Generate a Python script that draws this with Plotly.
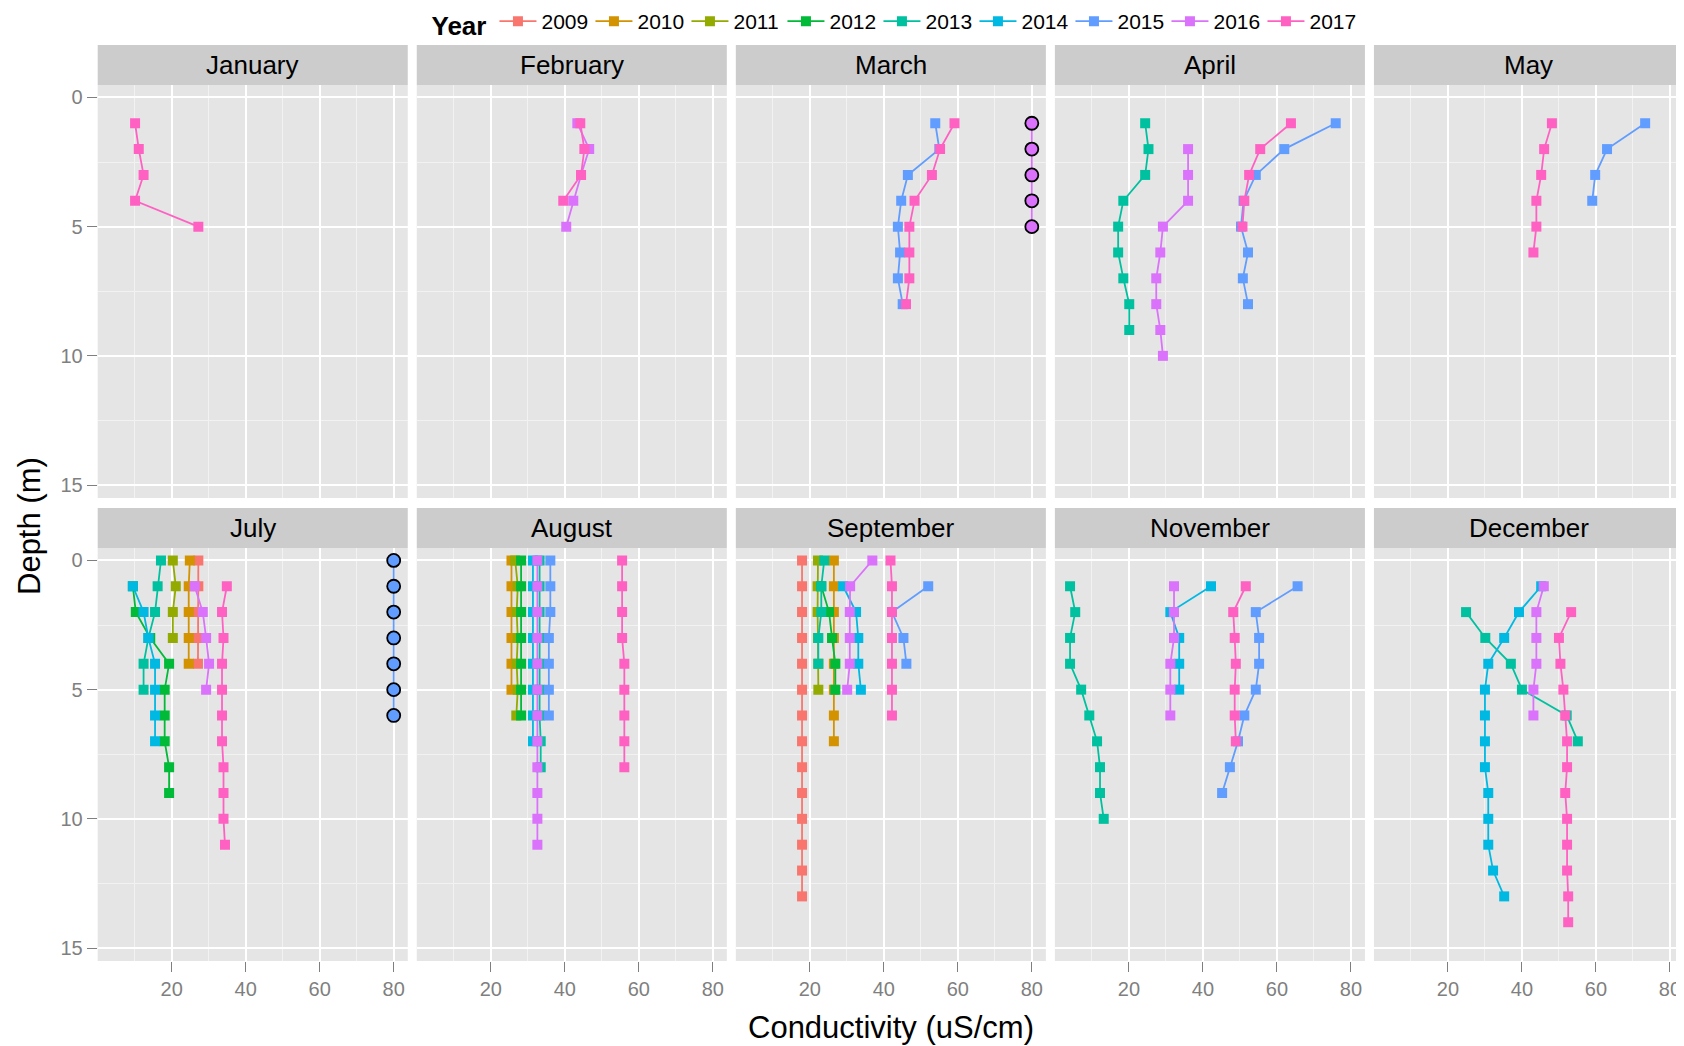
import plotly.graph_objects as go

# ---------------- data ----------------
years = [2009, 2010, 2011, 2012, 2013, 2014, 2015, 2016, 2017]
colors = ["#F8766D", "#D39200", "#93AA00", "#00BA38", "#00C19F",
          "#00B9E3", "#619CFF", "#DB72FB", "#FF61C3"]
facet_months = ["January", "February", "March", "April", "May",
                "July", "August", "September", "November", "December"]
x_ticks = [20, 40, 60, 80]
y_ticks = [0, 5, 10, 15]

# year -> (depth list, conductivity list)
january = {
    2017: ([1, 2, 3, 4, 5], [10.1, 11.1, 12.4, 10.1, 27.2]),
}
february = {
    2016: ([1, 2, 3, 4, 5], [43.4, 46.6, 44.4, 42.3, 40.4]),
    2017: ([1, 2, 3, 4], [44.2, 45.3, 44.4, 39.6]),
}
march = {
    2015: ([1, 2, 3, 4, 5, 6, 7, 8], [53.9, 55.0, 46.5, 44.7, 43.8, 44.4, 43.8, 45.1]),
    2017: ([1, 2, 3, 4, 5, 6, 7, 8], [59.1, 55.2, 53.0, 48.3, 46.9, 46.9, 46.9, 46.0]),
}
april = {
    2013: ([1, 2, 3, 4, 5, 6, 7, 8, 9], [24.4, 25.3, 24.4, 18.5, 17.1, 17.1, 18.5, 20.1, 20.1]),
    2015: ([1, 2, 3, 4, 5, 6, 7, 8], [75.9, 62.0, 54.3, 51.0, 50.3, 52.2, 50.8, 52.2]),
    2016: ([2, 3, 4, 5, 6, 7, 8, 9, 10], [36.0, 36.0, 36.0, 29.2, 28.5, 27.4, 27.4, 28.5, 29.2]),
    2017: ([1, 2, 3, 4, 5], [63.8, 55.5, 52.5, 51.2, 50.7]),
}
may = {
    2015: ([1, 2, 3, 4], [73.3, 63.0, 59.8, 59.0]),
    2017: ([1, 2, 3, 4, 5, 6], [48.1, 46.0, 45.2, 43.9, 43.9, 43.1]),
}
july = {
    2009: ([0, 1, 2, 3, 4], [27.2, 27.2, 27.0, 27.1, 27.1]),
    2010: ([0, 1, 2, 3, 4], [24.9, 24.6, 24.6, 24.6, 24.6]),
    2011: ([0, 1, 2, 3], [20.3, 21.1, 20.3, 20.3]),
    2012: ([1, 2, 3, 4, 5, 6, 7, 8, 9], [9.5, 10.3, 14.2, 19.3, 18.1, 18.1, 18.1, 19.3, 19.3]),
    2013: ([0, 1, 2, 3, 4, 5], [17.1, 16.2, 15.5, 13.7, 12.4, 12.4]),
    2014: ([1, 2, 3, 4, 5, 6, 7], [9.5, 12.4, 13.7, 15.5, 15.5, 15.5, 15.5]),
    2016: ([1, 2, 3, 4, 5], [26.2, 28.4, 29.3, 30.1, 29.3]),
    2017: ([1, 2, 3, 4, 5, 6, 7, 8, 9, 10, 11],
           [34.9, 33.6, 34.0, 33.6, 33.6, 33.6, 33.6, 34.0, 34.0, 34.0, 34.4]),
}
august = {
    2010: ([0, 1, 2, 3, 4, 5], [25.6, 25.6, 25.6, 25.6, 25.6, 25.6]),
    2011: ([0, 1, 2, 3, 4, 5, 6], [26.6, 27.3, 27.0, 27.3, 27.0, 27.3, 26.9]),
    2012: ([0, 1, 2, 3, 4, 5, 6], [28.2, 28.2, 28.2, 28.2, 28.2, 28.2, 28.2]),
    2013: ([0, 1, 2, 3, 4, 5, 6, 7, 8], [33.2, 33.2, 33.2, 33.2, 33.2, 33.2, 33.2, 33.5, 33.5]),
    2014: ([0, 1, 2, 3, 4, 5, 6, 7], [31.4, 31.4, 31.4, 31.4, 31.4, 31.4, 31.4, 31.4]),
    2015: ([0, 1, 2, 3, 4, 5, 6], [36.1, 36.1, 36.1, 35.7, 35.7, 35.7, 35.7]),
    2016: ([0, 1, 2, 3, 4, 5, 6, 7, 8, 9, 10, 11],
           [32.6, 32.6, 32.6, 32.6, 32.6, 32.6, 32.6, 32.6, 32.6, 32.6, 32.6, 32.6]),
    2017: ([0, 1, 2, 3, 4, 5, 6, 7, 8], [55.5, 55.5, 55.5, 55.5, 56.1, 56.1, 56.1, 56.1, 56.1]),
}
september = {
    2009: ([0, 1, 2, 3, 4, 5, 6, 7, 8, 9, 10, 11, 12, 13],
           [17.9, 17.9, 17.9, 17.9, 17.9, 17.9, 17.9, 17.9, 17.9, 17.9, 17.9, 17.9, 17.9, 17.9]),
    2010: ([0, 1, 2, 3, 4, 5, 6, 7], [26.5, 26.5, 26.5, 26.5, 26.5, 26.5, 26.5, 26.5]),
    2011: ([0, 1, 2, 3, 4, 5], [22.2, 22.1, 22.1, 22.2, 22.3, 22.3]),
    2012: ([1, 2, 3, 4, 5], [23.1, 25.2, 26.0, 26.9, 26.9]),
    2013: ([0, 1, 2, 3, 4], [23.9, 23.1, 23.1, 22.3, 22.3]),
    2014: ([1, 2, 3, 4, 5], [29.0, 32.5, 33.1, 33.1, 33.8]),
    2015: ([1, 2, 3, 4], [52.0, 42.2, 45.3, 46.1]),
    2016: ([0, 1, 2, 3, 4, 5], [36.9, 30.9, 30.8, 30.8, 30.8, 30.1]),
    2017: ([0, 1, 2, 3, 4, 5, 6], [41.8, 42.2, 42.2, 42.2, 42.2, 42.2, 42.2]),
}
november = {
    2013: ([1, 2, 3, 4, 5, 6, 7, 8, 9, 10], [4.1, 5.5, 4.1, 4.1, 7.1, 9.3, 11.4, 12.2, 12.2, 13.2]),
    2014: ([1, 2, 3, 4, 5], [42.2, 31.2, 33.6, 33.6, 33.6]),
    2015: ([1, 2, 3, 4, 5, 6, 7, 8, 9], [65.6, 54.3, 55.2, 55.2, 54.3, 51.2, 49.5, 47.3, 45.2]),
    2016: ([1, 2, 3, 4, 5, 6], [32.2, 32.2, 32.2, 31.2, 31.2, 31.2]),
    2017: ([1, 2, 3, 4, 5, 6, 7], [51.6, 48.2, 48.6, 48.9, 48.6, 48.6, 48.9]),
}
december = {
    2013: ([2, 3, 4, 5, 6, 7], [24.9, 30.1, 37.0, 40.0, 52.1, 55.1]),
    2014: ([1, 2, 3, 4, 5, 6, 7, 8, 9, 10, 11, 12, 13],
           [45.2, 39.2, 35.2, 30.9, 30.0, 30.0, 30.0, 30.0, 30.9, 30.9, 30.9, 32.2, 35.2]),
    2016: ([1, 2, 3, 4, 5, 6], [45.9, 43.9, 43.9, 43.9, 43.1, 43.1]),
    2017: ([2, 3, 4, 5, 6, 7, 8, 9, 10, 11, 12, 13, 14],
           [53.3, 50.0, 50.4, 51.2, 51.7, 52.2, 52.2, 51.7, 52.2, 52.2, 52.2, 52.5, 52.5]),
}
# profiles drawn with outlined circles at the right edge
flagged = {
    "March": {2016: ([1, 2, 3, 4, 5], [80, 80, 80, 80, 80])},
    "July": {2015: ([0, 1, 2, 3, 4, 5, 6], [80, 80, 80, 80, 80, 80, 80])},
}
month_data = {
    "January": january, "February": february, "March": march, "April": april,
    "May": may, "July": july, "August": august, "September": september,
    "November": november, "December": december,
}

# ---------------- layout geometry (pixels; page body has an 8px margin) ----------------
W, H = 1676, 1038
FONT = "Liberation Sans, Arial, Helvetica, sans-serif"
left0, pw, gap = 89.7, 310.06, 9.0
panel_tops = [77.0, 540.0]
ph, sh = 413.0, 40.0
x_range = [0, 83.8]
y_range = [15.5, -0.48]
MS = 10

fig = go.Figure()
color_of = dict(zip(years, colors))

# legend entries
for yr in years:
    fig.add_trace(go.Scatter(
        x=[None], y=[None], mode="lines+markers", name=str(yr),
        line=dict(color=color_of[yr], width=1.8),
        marker=dict(symbol="square", size=MS, color=color_of[yr]),
        xaxis="x", yaxis="y", legendgroup=str(yr), hoverinfo="skip"))

layout_axes = {}
for i, month in enumerate(facet_months):
    row, col = divmod(i, 5)
    n = i + 1
    xa = "x" if n == 1 else f"x{n}"
    ya = "y" if n == 1 else f"y{n}"
    x0 = left0 + col * (pw + gap)
    x1 = min(x0 + pw, W)
    top = panel_tops[row]
    bot = top + ph
    layout_axes["xaxis" if n == 1 else f"xaxis{n}"] = dict(
        domain=[x0 / W, x1 / W], range=x_range, anchor=ya,
        tickvals=x_ticks, showticklabels=(row == 1),
        ticks="outside" if row == 1 else "", ticklen=10, tickwidth=1.3,
        tickcolor="#7F7F7F", tickfont=dict(size=20, color="#7F7F7F", family=FONT),
        showgrid=True, gridcolor="white", gridwidth=1.7,
        minor=dict(tickvals=[10, 30, 50, 70], showgrid=True,
                   gridcolor="#F2F2F2", gridwidth=0.9, ticks=""),
        zeroline=False, showline=False, fixedrange=True)
    layout_axes["yaxis" if n == 1 else f"yaxis{n}"] = dict(
        domain=[1 - bot / H, 1 - top / H], range=y_range, anchor=xa,
        tickvals=y_ticks, showticklabels=(col == 0),
        ticks="outside" if col == 0 else "", ticklen=10, tickwidth=1.3,
        tickcolor="#7F7F7F", tickfont=dict(size=20, color="#7F7F7F", family=FONT),
        showgrid=True, gridcolor="white", gridwidth=1.7,
        minor=dict(tickvals=[2.5, 7.5, 12.5], showgrid=True,
                   gridcolor="#F2F2F2", gridwidth=0.9, ticks=""),
        zeroline=False, showline=False, fixedrange=True)

    # strip
    fig.add_shape(type="rect", xref="paper", yref="paper",
                  x0=x0 / W, x1=x1 / W,
                  y0=1 - top / H, y1=1 - (top - sh) / H,
                  fillcolor="#CCCCCC", line=dict(width=0), layer="below")
    fig.add_annotation(x=(x0 + x0 + pw) / 2 / W,
                       y=1 - (top - sh / 2) / H, xref="paper", yref="paper",
                       text=month, showarrow=False,
                       font=dict(size=26, color="black", family=FONT),
                       xanchor="center", yanchor="middle")

    data = month_data[month]
    # lines first (ggplot geom_line layer), then points
    for yr in years:
        if yr in data:
            d, c = data[yr]
            fig.add_trace(go.Scatter(x=c, y=d, mode="lines", xaxis=xa, yaxis=ya,
                                     line=dict(color=color_of[yr], width=1.8),
                                     showlegend=False, legendgroup=str(yr)))
        if month in flagged and yr in flagged[month]:
            d, c = flagged[month][yr]
            fig.add_trace(go.Scatter(x=c, y=d, mode="lines", xaxis=xa, yaxis=ya,
                                     line=dict(color=color_of[yr], width=1.8),
                                     showlegend=False, legendgroup=str(yr)))
    for yr in years:
        if yr in data:
            d, c = data[yr]
            fig.add_trace(go.Scatter(x=c, y=d, mode="markers", xaxis=xa, yaxis=ya,
                                     marker=dict(symbol="square", size=MS,
                                                 color=color_of[yr], line=dict(width=0)),
                                     showlegend=False, legendgroup=str(yr)))
    if month in flagged:
        for yr, (d, c) in flagged[month].items():
            fig.add_trace(go.Scatter(x=c, y=d, mode="markers", xaxis=xa, yaxis=ya,
                                     marker=dict(symbol="circle", size=13,
                                                 color=color_of[yr],
                                                 line=dict(width=1.8, color="black")),
                                     showlegend=False, legendgroup=str(yr)))

# axis titles
fig.add_annotation(x=(left0 + W) / 2 / W, y=1 - 1019 / H, xref="paper", yref="paper",
                   text="Conductivity (uS/cm)", showarrow=False,
                   font=dict(size=31, color="black", family=FONT),
                   xanchor="center", yanchor="middle")
fig.add_annotation(x=21 / W, y=1 - 518 / H, xref="paper", yref="paper",
                   text="Depth (m)", showarrow=False, textangle=-90,
                   font=dict(size=31, color="black", family=FONT),
                   xanchor="center", yanchor="middle")

fig.update_layout(
    width=W, height=H, autosize=False,
    margin=dict(l=0, r=0, t=0, b=0, pad=0, autoexpand=False),
    paper_bgcolor="white", plot_bgcolor="#E5E5E5",
    font=dict(family=FONT, color="black"),
    showlegend=True,
    legend=dict(orientation="h", x=886 / W, xanchor="center", y=1 + 7 / H, yanchor="top",
                title=dict(text="<b>Year</b>", font=dict(size=26, family=FONT)),
                font=dict(size=21, family=FONT), itemwidth=37, entrywidth=44,
                bgcolor="rgba(0,0,0,0)", tracegroupgap=0),
    **layout_axes,
)

fig.write_html("out.html")
